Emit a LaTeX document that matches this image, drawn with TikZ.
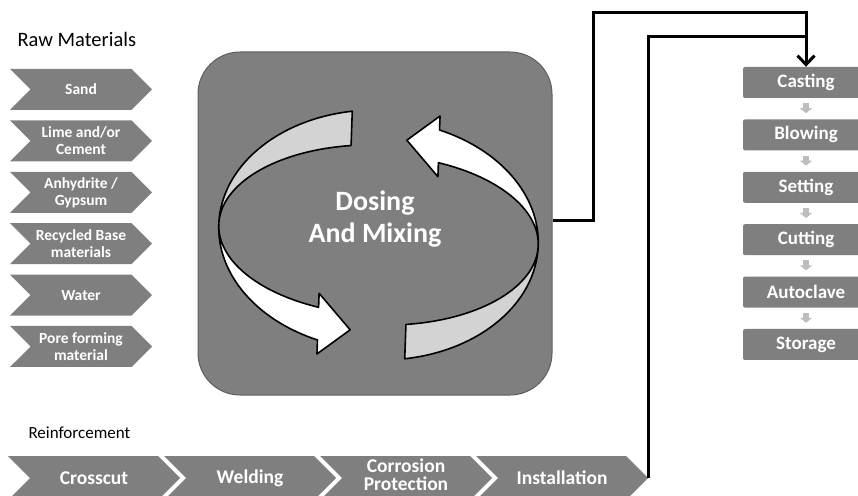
\documentclass[tikz,border=0pt]{standalone}
\usepackage{fontspec}
\setmainfont{Carlito}
\usetikzlibrary{shapes.symbols, arrows.meta, positioning}

\definecolor{boxgray}{HTML}{7F7F7F}
\definecolor{rimgray}{HTML}{5E5E5E}
\definecolor{bandgray}{HTML}{D3D3D3}
\definecolor{stepgray}{HTML}{BDBDBD}

\begin{document}
\begin{tikzpicture}[x=1pt, y=1pt,
	rawchev/.style={signal, signal from=west, signal to=east, signal pointer angle=90,
		fill=boxgray, text=white, inner sep=0pt, minimum width=142pt, minimum height=41pt,
		align=center, font=\bfseries\fontsize{15.5}{17}\selectfont},
	reinchev/.style={rawchev, minimum width=172pt, minimum height=44pt,
		font=\bfseries\fontsize{19.5}{19}\selectfont},
	stepbox/.style={rectangle, rounded corners=2pt, fill=boxgray, text=white,
		minimum width=126pt, minimum height=31pt, font=\bfseries\fontsize{19}{21}\selectfont},
	steparrow/.style={stepgray, line width=6pt, shorten <=5pt, shorten >=6pt,
		-{Triangle[length=5pt, width=12pt]}},
	band/.style={draw=black, line width=1.6pt, line join=round},
	flow/.style={line width=3pt}]
	\useasboundingbox (0,0) rectangle (858,495); % Rand wie Vorlage

	% Rohstoffe
	\node[anchor=base west, font=\fontsize{20.5}{22}\selectfont] (rawtitle) at (14,448) {Raw Materials};
	\node[rawchev] (sand) at (81,405.5) {Sand};
	\node[rawchev, below=10pt of sand] (lime) {Lime and/or\\Cement};
	\node[rawchev, below=10pt of lime] (gyps) {Anhydrite /\\Gypsum};
	\node[rawchev, below=10pt of gyps] (recyc) {Recycled Base\\materials};
	\node[rawchev, below=10pt of recyc] (water) {Water};
	\node[rawchev, below=10pt of water] (pore) {Pore forming\\material};

	% Mischer
	\node[rectangle, rounded corners=42pt, fill=boxgray, draw=rimgray, line width=1pt,
		minimum width=354pt, minimum height=343pt] (mix) at (375,271.5) {};

	\begin{scope}[shift={(378.5,260)}, rotate=-2]
		\begin{scope}[yshift=5pt]
			\draw[band, fill=bandgray] (101:160pt and 120pt)
				arc[start angle=101, end angle=180, x radius=160pt, y radius=120pt]
				arc[start angle=180, end angle=101, x radius=160pt, y radius=85pt] -- cycle;
			\draw[band, fill=white] (180:160pt and 85pt)
				arc[start angle=180, end angle=249, x radius=160pt, y radius=85pt]
				-- (249:160pt and 70pt) -- (261:160pt and 102pt) -- (249:160pt and 135pt)
				-- (249:160pt and 120pt)
				arc[start angle=249, end angle=180, x radius=160pt, y radius=120pt] -- cycle;
		\end{scope}
		\begin{scope}[rotate=180, yshift=5pt]
			\draw[band, fill=bandgray] (101:160pt and 120pt)
				arc[start angle=101, end angle=180, x radius=160pt, y radius=120pt]
				arc[start angle=180, end angle=101, x radius=160pt, y radius=85pt] -- cycle;
			\draw[band, fill=white] (180:160pt and 85pt)
				arc[start angle=180, end angle=249, x radius=160pt, y radius=85pt]
				-- (249:160pt and 70pt) -- (261:160pt and 102pt) -- (249:160pt and 135pt)
				-- (249:160pt and 120pt)
				arc[start angle=249, end angle=180, x radius=160pt, y radius=120pt] -- cycle;
		\end{scope}
	\end{scope}

	\node[text=white, align=center, font=\bfseries\fontsize{28}{32}\selectfont] (mixlbl) at (375,276) {Dosing\\And Mixing};

	% Produktion
	\node[stepbox] (cast) at (806,412.5) {Casting};
	\node[stepbox, below=21pt of cast] (blow) {Blowing};
	\node[stepbox, below=21pt of blow] (sett) {Setting};
	\node[stepbox, below=21pt of sett] (cutt) {Cutting};
	\node[stepbox, below=21pt of cutt] (auto) {Autoclave};
	\node[stepbox, below=21pt of auto] (stor) {Storage};

	\draw[steparrow] (cast) -- (blow);
	\draw[steparrow] (blow) -- (sett);
	\draw[steparrow] (sett) -- (cutt);
	\draw[steparrow] (cutt) -- (auto);
	\draw[steparrow] (auto) -- (stor);

	% Bewehrung
	\node[anchor=base west, font=\fontsize{17}{20}\selectfont] (reintitle) at (25,57) {Reinforcement};
	\node[reinchev] (cross) at (94,17) {Crosscut};
	\node[reinchev] (weld) at (250,17) {Welding};
	\node[reinchev] (corr) at (406,17) {};
	\node[text=white, align=center, font=\bfseries\fontsize{19.5}{18.5}\selectfont] (corrlbl) at (406,20.5) {Corrosion\\Protection};
	\node[reinchev] (inst) at (562,17) {Installation};

	% Verbindungen
	\coordinate (up1) at (593,482);
	\coordinate (up2) at (806,458);
	\draw[flow, -{Straight Barb[length=9pt, width=17pt]}] ([yshift=3pt]mix.east) -| (up1) -| (cast.north);
	\draw[flow] (inst.east) |- (up2);
\end{tikzpicture}
\end{document}
